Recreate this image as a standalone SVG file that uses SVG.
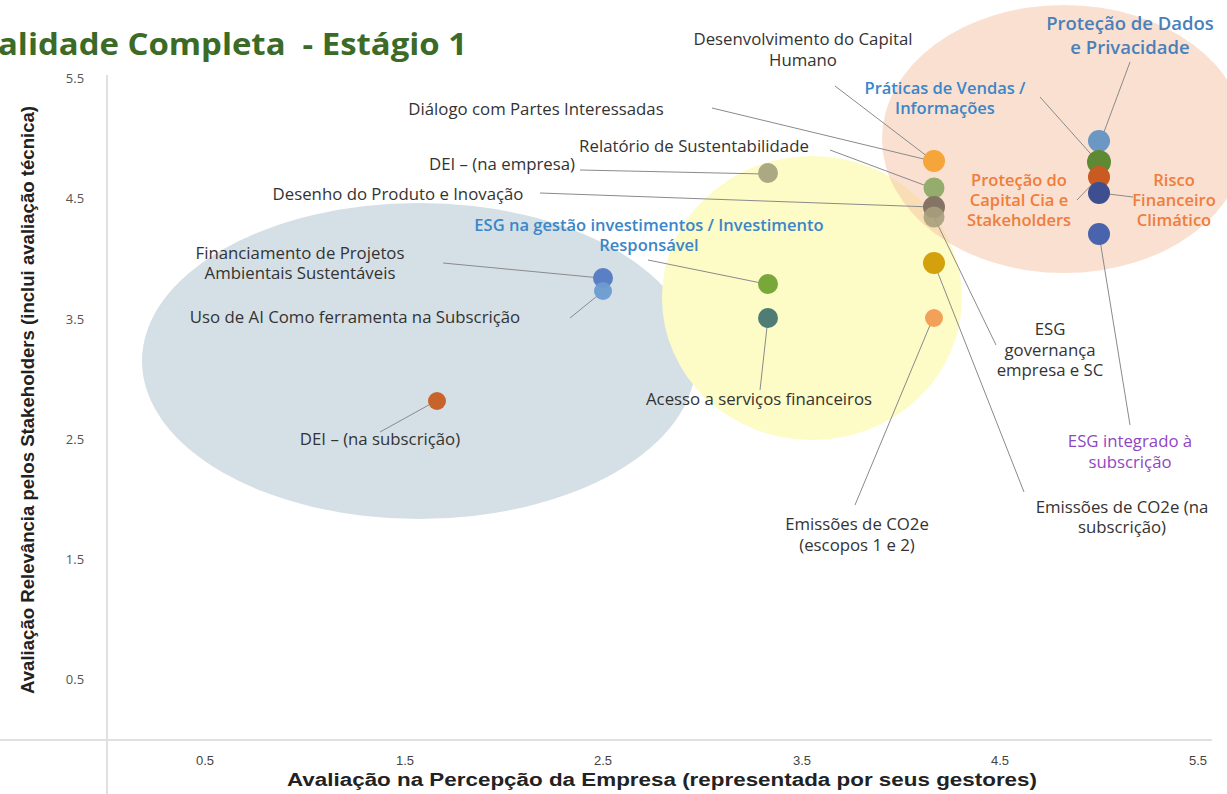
<svg xmlns="http://www.w3.org/2000/svg" width="1227" height="794" viewBox="0 0 1227 794">
<style>
.lbl{font-family:"Open Sans","Liberation Sans",sans-serif;font-size:16.8px;fill:#333;text-anchor:middle}
.blue{fill:#3a86c8;font-size:16.5px;font-weight:600}
.pblue{fill:#4a80ba;font-size:18.5px;font-weight:600}
.orange{fill:#ef7d3c;font-size:16.5px;font-weight:600}
.purple{fill:#9046c4}
.tick{font-family:"Open Sans","Liberation Sans",sans-serif;font-size:13px;fill:#555;text-anchor:middle}
.xtick{font-family:"Liberation Sans",sans-serif;font-size:13px;fill:#444;text-anchor:middle}
.lead{stroke:#8a8a8a;stroke-width:1;fill:none}
.axis{stroke:#e0e0e0;stroke-width:2;fill:none}
</style>
<rect width="1227" height="794" fill="#ffffff"/>
<g id="axes">
<line class="axis" x1="107" y1="75" x2="107" y2="794"/>
<line class="axis" x1="0" y1="740" x2="1212" y2="740"/>
<text class="tick" x="75" y="83">5.5</text>
<text class="tick" x="75" y="203">4.5</text>
<text class="tick" x="75" y="324">3.5</text>
<text class="tick" x="75" y="444">2.5</text>
<text class="tick" x="75" y="564">1.5</text>
<text class="tick" x="75" y="684">0.5</text>
<text class="xtick" x="205" y="765">0.5</text>
<text class="xtick" x="405" y="765">1.5</text>
<text class="xtick" x="603" y="765">2.5</text>
<text class="xtick" x="802" y="765">3.5</text>
<text class="xtick" x="1000" y="765">4.5</text>
<text class="xtick" x="1198" y="765">5.5</text>
<text x="662" y="786" font-family="Liberation Sans, sans-serif" font-weight="bold" font-size="18" fill="#222" text-anchor="middle" textLength="750" lengthAdjust="spacingAndGlyphs">Avaliação na Percepção da Empresa (representada por seus gestores)</text>
<text transform="translate(34,400) rotate(-90)" font-family="Liberation Sans, sans-serif" font-weight="bold" font-size="18" fill="#222" text-anchor="middle" textLength="588" lengthAdjust="spacingAndGlyphs">Avaliação Relevância pelos Stakeholders  (inclui avaliação técnica)</text>
</g>
<g id="title">
<text x="-2" y="55" xml:space="preserve" font-family="Open Sans, Liberation Sans, sans-serif" font-weight="bold" font-size="30" fill="#3b6b26" textLength="469" lengthAdjust="spacingAndGlyphs">alidade Completa  - Estágio 1</text>
</g>
<g id="regions">
<ellipse cx="419" cy="361" rx="277" ry="158" fill="#d5e0e6"/>
<ellipse cx="812" cy="298" rx="150" ry="142" fill="#fdfbc6"/>
<ellipse cx="1064" cy="139" rx="182" ry="134" fill="#f6c4a4" opacity="0.52"/>
</g>
<g id="connectors">
<line class="lead" x1="835" y1="86" x2="932" y2="160"/>
<line class="lead" x1="712" y1="108" x2="932" y2="161"/>
<line class="lead" x1="830" y1="150" x2="932" y2="188"/>
<line class="lead" x1="580" y1="170" x2="765" y2="174"/>
<line class="lead" x1="540" y1="193" x2="932" y2="207"/>
<line class="lead" x1="648" y1="260" x2="766" y2="284"/>
<line class="lead" x1="443" y1="263" x2="601" y2="278"/>
<line class="lead" x1="570" y1="318" x2="602" y2="292"/>
<line class="lead" x1="380" y1="432" x2="436" y2="401"/>
<line class="lead" x1="760" y1="390" x2="768" y2="318"/>
<line class="lead" x1="855" y1="505" x2="933" y2="318"/>
<line class="lead" x1="996" y1="345" x2="934" y2="217"/>
<line class="lead" x1="1024" y1="492" x2="934" y2="263"/>
<line class="lead" x1="1130" y1="425" x2="1099" y2="234"/>
<line class="lead" x1="1133" y1="197" x2="1100" y2="193"/>
<line class="lead" x1="1077" y1="200" x2="1099" y2="177"/>
<line class="lead" x1="1040" y1="97" x2="1098" y2="162"/>
<line class="lead" x1="1130" y1="62" x2="1101" y2="140"/>
</g>
<g id="points">
<circle cx="768" cy="173" r="10" fill="#aba984"/>
<circle cx="934" cy="161" r="11" fill="#f5a53a"/>
<circle cx="934" cy="188" r="10.5" fill="#94ad6c"/>
<circle cx="934" cy="207" r="11" fill="#857465"/>
<circle cx="934" cy="217" r="10.5" fill="#a99e7c" opacity="0.9"/>
<circle cx="934" cy="263" r="11" fill="#d3a10b"/>
<circle cx="934" cy="318" r="9" fill="#f3a158"/>
<circle cx="768" cy="284" r="10" fill="#78a83a"/>
<circle cx="768" cy="318" r="10" fill="#4f7c74"/>
<circle cx="603" cy="278" r="10" fill="#5b7fc4"/>
<circle cx="603" cy="291" r="9" fill="#6d9bd1" opacity="0.95"/>
<circle cx="437" cy="401" r="9" fill="#c8642b"/>
<circle cx="1099" cy="141" r="11" fill="#6b97c5"/>
<circle cx="1099" cy="162" r="12" fill="#5f8a33"/>
<circle cx="1099" cy="177" r="11" fill="#c85a22"/>
<circle cx="1099" cy="193" r="11" fill="#3e4f90"/>
<circle cx="1099" cy="234" r="11" fill="#4a63ad"/>
</g>
<g id="labels">
<text class="lbl" x="803" y="45">Desenvolvimento do Capital</text>
<text class="lbl" x="803" y="66">Humano</text>
<text class="lbl" x="536" y="115">Diálogo com Partes Interessadas</text>
<text class="lbl" x="694" y="152">Relatório de Sustentabilidade</text>
<text class="lbl" x="502" y="170">DEI – (na empresa)</text>
<text class="lbl" x="398" y="200">Desenho do Produto e Inovação</text>
<text class="lbl blue" x="649" y="231">ESG na gestão investimentos / Investimento</text>
<text class="lbl blue" x="649" y="251">Responsável</text>
<text class="lbl" x="300" y="259">Financiamento de Projetos</text>
<text class="lbl" x="300" y="279">Ambientais Sustentáveis</text>
<text class="lbl" x="355" y="323">Uso de AI Como ferramenta na Subscrição</text>
<text class="lbl" x="380" y="445">DEI – (na subscrição)</text>
<text class="lbl" x="759" y="405">Acesso a serviços financeiros</text>
<text class="lbl" x="857" y="530">Emissões de CO2e</text>
<text class="lbl" x="857" y="551">(escopos 1 e 2)</text>
<text class="lbl" x="1050" y="335">ESG</text>
<text class="lbl" x="1050" y="356">governança</text>
<text class="lbl" x="1050" y="376">empresa e SC</text>
<text class="lbl purple" x="1130" y="447">ESG integrado à</text>
<text class="lbl purple" x="1130" y="468">subscrição</text>
<text class="lbl" x="1122" y="513">Emissões de CO2e (na</text>
<text class="lbl" x="1122" y="533">subscrição)</text>
<text class="lbl pblue" x="1130" y="30">Proteção de Dados</text>
<text class="lbl pblue" x="1130" y="54">e Privacidade</text>
<text class="lbl blue" x="945" y="94">Práticas de Vendas /</text>
<text class="lbl blue" x="945" y="114">Informações</text>
<text class="lbl orange" x="1019" y="186">Proteção do</text>
<text class="lbl orange" x="1019" y="206">Capital Cia e</text>
<text class="lbl orange" x="1019" y="226">Stakeholders</text>
<text class="lbl orange" x="1174" y="186">Risco</text>
<text class="lbl orange" x="1174" y="206">Financeiro</text>
<text class="lbl orange" x="1174" y="226">Climático</text>
</g>
</svg>
